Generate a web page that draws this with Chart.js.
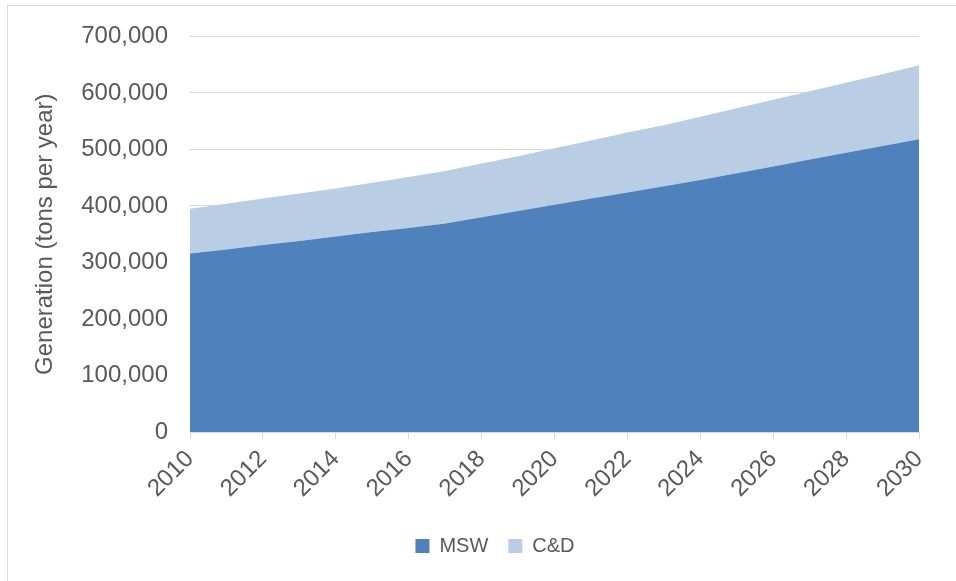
<!DOCTYPE html>
<html>
<head>
<meta charset="utf-8">
<script src="https://cdn.jsdelivr.net/npm/chart.js@4.4.1/dist/chart.umd.min.js"></script>
<style>
  body { margin: 0; background: #fff; }
  #wrap { position: relative; width: 956px; height: 581px; overflow: hidden; }
  #frame { position: absolute; left: 7px; top: 5px; width: 1000px; height: 700px;
           border-left: 1px solid #d9d9d9; border-top: 1px solid #d9d9d9; }
  canvas { position: absolute; left: 0; top: 0; }
</style>
</head>
<body>
<div id="wrap">
  <div id="frame"></div>
  <canvas id="myChart" width="956" height="581"></canvas>
</div>
<script>
var years = ["2010", "2011", "2012", "2013", "2014", "2015", "2016", "2017", "2018", "2019", "2020",
             "2021", "2022", "2023", "2024", "2025", "2026", "2027", "2028", "2029", "2030"];
var mswValues = [316000, 323000, 331000, 338000, 346000, 354000, 361000, 369000, 380000, 391000, 402000,
                 413000, 424000, 435000, 446000, 458000, 470000, 482000, 494000, 506000, 518000];
var cdValues = [79000, 81000, 82000, 84000, 85000, 87000, 90000, 93000, 95000, 97000, 100000,
                103000, 106000, 108000, 112000, 115000, 118000, 121000, 124000, 127000, 131000];
var yMax = 700000;
var yStep = 100000;

var textColor = "#595959";
var gridColor = "#d9d9d9";
var fontFamily = "'Liberation Sans', Arial, sans-serif";

// excel centres the legend a bit right of the canvas middle
var legendShift = {
  id: "legendShift",
  afterLayout: function(chart) {
    chart.legend.left += 20;
    chart.legend.right += 20;
  }
};

new Chart("myChart", {
  type: "line",
  data: {
    labels: years,
    datasets: [{
      label: "MSW",
      data: mswValues,
      backgroundColor: "#4f81bd",
      borderWidth: 0,
      pointRadius: 0,
      fill: "origin"
    }, {
      label: "C&D",
      data: cdValues,
      backgroundColor: "#b9cde5",
      borderWidth: 0,
      pointRadius: 0,
      fill: "-1"
    }]
  },
  plugins: [legendShift],
  options: {
    responsive: false,
    animation: false,
    layout: {padding: {left: 31, right: 37, top: 25, bottom: 15}},
    plugins: {
      tooltip: {enabled: false},
      legend: {
        position: "bottom",
        labels: {
          color: textColor,
          font: {family: fontFamily, size: 20},
          boxWidth: 14,
          boxHeight: 14,
          padding: 20
        }
      }
    },
    scales: {
      x: {
        offset: false,
        border: {color: gridColor, width: 1},
        grid: {
          drawOnChartArea: false,
          drawTicks: true,
          tickLength: 7,
          tickColor: function(c) { return c.index % 2 === 0 ? gridColor : "rgba(0,0,0,0)"; }
        },
        ticks: {
          autoSkip: false,
          minRotation: 45,
          maxRotation: 45,
          padding: 6,
          color: textColor,
          font: {family: fontFamily, size: 24},
          callback: function(v, i) { return i % 2 === 0 ? years[i] : ""; }
        },
        afterFit: function(s) { s.height = 84; }
      },
      y: {
        stacked: true,
        min: 0,
        max: yMax,
        border: {display: false},
        grid: {color: gridColor, drawTicks: false},
        ticks: {
          stepSize: yStep,
          padding: 22,
          color: textColor,
          font: {family: fontFamily, size: 24},
          callback: function(v) { return v.toLocaleString("en-US"); }
        },
        title: {
          display: true,
          text: "Generation (tons per year)",
          color: textColor,
          font: {family: fontFamily, size: 24},
          padding: {top: 0, bottom: 0}
        },
        afterFit: function(s) { s.width = 159; }
      }
    }
  }
});
</script>
</body>
</html>
